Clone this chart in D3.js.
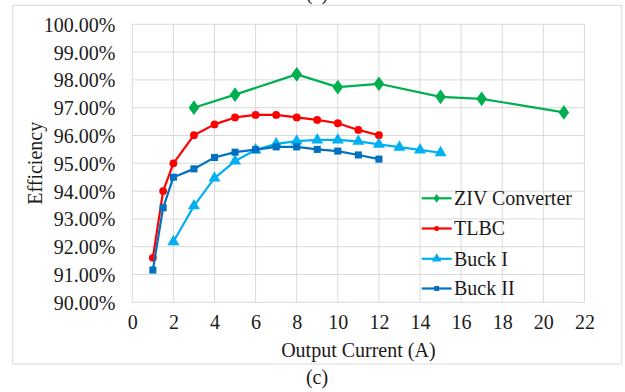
<!DOCTYPE html>
<html>
<head>
<meta charset="utf-8">
<script src="https://cdn.jsdelivr.net/npm/d3@7"></script>
<style>
  html, body { margin: 0; padding: 0; background: #fff; }
  svg { display: block; }
  svg text { font-family: 'Liberation Serif', 'Times New Roman', Times, Tinos, 'DejaVu Serif', serif !important; fill: #1a1a1a; }
</style>
</head>
<body>
<svg id="chart" width="625" height="392"></svg>
<script>
// ---- data ----
const seriesNames = ["ZIV Converter", "TLBC", "Buck I", "Buck II"];
const zivX = [3, 5, 8, 10, 12, 15, 17, 21];
const zivY = [97.0, 97.47, 98.2, 97.74, 97.86, 97.39, 97.32, 96.83];
const tlbcX = [1, 1.5, 2, 3, 4, 5, 6, 7, 8, 9, 10, 11, 12];
const tlbcY = [91.6, 94.0, 95.0, 96.01, 96.4, 96.65, 96.74, 96.74, 96.65, 96.56, 96.44, 96.2, 96.01];
const buck1X = [2, 3, 4, 5, 6, 7, 8, 9, 10, 11, 12, 13, 14, 15];
const buck1Y = [92.18, 93.47, 94.47, 95.08, 95.48, 95.7, 95.8, 95.84, 95.84, 95.79, 95.68, 95.58, 95.48, 95.38];
const buck2X = [1, 1.5, 2, 3, 4, 5, 6, 7, 8, 9, 10, 11, 12];
const buck2Y = [91.16, 93.4, 94.5, 94.8, 95.21, 95.4, 95.49, 95.59, 95.59, 95.5, 95.44, 95.3, 95.15];
const xTicks = [0, 2, 4, 6, 8, 10, 12, 14, 16, 18, 20, 22];
const yTicks = [90, 91, 92, 93, 94, 95, 96, 97, 98, 99, 100];
const xTitle = "Output Current (A)";
const yTitle = "Efficiency";
const caption = "(c)";

// ---- layout ----
const svg = d3.select("#chart");
const L = 132.3, R = 584.4, T = 24.3, B = 302.3;
const x = d3.scaleLinear().domain([0, 22]).range([L, R]);
const y = d3.scaleLinear().domain([90, 100]).range([B, T]);
const gridColor = "#d9d9d9";
const fontSize = 20;

// partial caption from above figure (clipped at top, as in the reference)
svg.append("text").attr("x", 317).attr("y", 0).attr("text-anchor", "middle")
  .attr("font-size", fontSize).text(caption);

// outer chart border
svg.append("rect").attr("x", 12.7).attr("y", 5.3).attr("width", 609).attr("height", 358.7)
  .attr("fill", "none").attr("stroke", gridColor).attr("stroke-width", 1);

// gridlines
const grid = svg.append("g");
grid.selectAll("line.v").data(xTicks).join("line")
  .attr("x1", d => x(d)).attr("x2", d => x(d)).attr("y1", T).attr("y2", B)
  .attr("stroke", gridColor).attr("stroke-width", 1);
grid.selectAll("line.h").data(yTicks).join("line")
  .attr("x1", L).attr("x2", R).attr("y1", d => y(d)).attr("y2", d => y(d))
  .attr("stroke", gridColor).attr("stroke-width", 1);

// axes (labels only; lines are the grid)
const xAxis = svg.append("g").attr("transform", `translate(0,${B})`)
  .call(d3.axisBottom(x).tickValues(xTicks).tickSize(0).tickPadding(0).tickFormat(d3.format("d")));
xAxis.attr("font-family", null).attr("font-size", fontSize);
xAxis.select(".domain").remove();
xAxis.selectAll("text").attr("fill", "#1a1a1a").attr("dy", null).attr("y", 27);

const yAxis = svg.append("g").attr("transform", `translate(${L},0)`)
  .call(d3.axisLeft(y).tickValues(yTicks).tickSize(0).tickPadding(17).tickFormat(d => d.toFixed(2) + "%"));
yAxis.attr("font-family", null).attr("font-size", fontSize);
yAxis.select(".domain").remove();
yAxis.selectAll("text").attr("fill", "#1a1a1a").attr("dy", "0.35em");

// axis titles
svg.append("text").attr("x", (L + R) / 2).attr("y", 356.5).attr("text-anchor", "middle")
  .attr("font-size", fontSize).text(xTitle);
svg.append("text").attr("transform", `translate(41.5,${(T + B) / 2}) rotate(-90)`)
  .attr("text-anchor", "middle").attr("font-size", fontSize).text(yTitle);

// caption
svg.append("text").attr("x", 317).attr("y", 384).attr("text-anchor", "middle")
  .attr("font-size", fontSize).text(caption);

// ---- series ----
const series = [
  { name: seriesNames[0], xs: zivX, ys: zivY, color: "#00b050", shape: d3.symbolDiamond, size: 62, lsize: 22 },
  { name: seriesNames[1], xs: tlbcX, ys: tlbcY, color: "#ff0000", shape: d3.symbolCircle, size: 48, lsize: 20 },
  { name: seriesNames[2], xs: buck1X, ys: buck1Y, color: "#00b0f0", shape: d3.symbolTriangle, size: 62, lsize: 40 },
  { name: seriesNames[3], xs: buck2X, ys: buck2Y, color: "#0070c0", shape: d3.symbolSquare, size: 50, lsize: 24 }
];

const line = d3.line().x(d => x(d[0])).y(d => y(d[1]));

series.forEach(s => {
  const pts = s.xs.map((v, i) => [v, s.ys[i]]);
  const g = svg.append("g");
  g.append("path").datum(pts).attr("d", line)
    .attr("fill", "none").attr("stroke", s.color).attr("stroke-width", 2.2).attr("stroke-linejoin", "round");
  g.selectAll("path.m").data(pts).join("path")
    .attr("class", "m")
    .attr("d", d3.symbol().type(s.shape).size(s.size))
    .attr("transform", d => `translate(${x(d[0])},${y(d[1])})` + (s.shape === d3.symbolDiamond ? " scale(1.25,1)" : ""))
    .attr("fill", s.color);
});

// ---- legend ----
const legendRows = [198.3, 228.5, 258.8, 288.5];
const lg = svg.append("g");
series.forEach((s, i) => {
  const cy = legendRows[i];
  lg.append("line").attr("x1", 421.7).attr("x2", 451.7).attr("y1", cy).attr("y2", cy)
    .attr("stroke", s.color).attr("stroke-width", 2.2);
  lg.append("path").attr("d", d3.symbol().type(s.shape).size(s.lsize)())
    .attr("transform", `translate(436.7,${cy})` + (s.shape === d3.symbolDiamond ? " scale(1.25,1)" : ""))
    .attr("fill", s.color);
  lg.append("text").attr("x", 454).attr("y", cy + 6.8).attr("font-size", fontSize).text(s.name);
});
</script>
</body>
</html>
